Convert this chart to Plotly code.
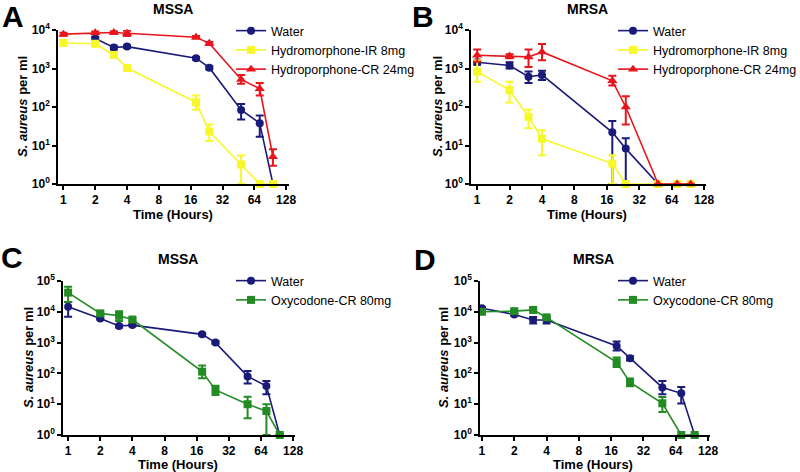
import numpy as np
import plotly.graph_objects as go

# ---------------- data ----------------
hours = [1, 2, 3, 4, 18, 24, 48, 72, 96]
hours_A_water = [2, 3, 4, 18, 24, 48, 72, 96]

# Panel A (MSSA, hydromorphone)
A_water = [6000, 3500, 3700, 1850, 1050, 84, 38, 1]
A_water_hi = [6600, 3900, 4000, 2000, 1150, 120, 60, 1]
A_water_lo = [5400, 3100, 3400, 1700, 950, 47, 17, 1]
A_ir = [4600, 4400, 2250, 1030, 133, 23, 3.2, 1, 1]
A_ir_hi = [5300, 5000, 2600, 1200, 200, 35, 5.5, 1, 1]
A_ir_lo = [4000, 3800, 1950, 880, 85, 13, 1, 1, 1]
A_cr = [7800, 8500, 8600, 8200, 6500, 4500, 520, 300, 5.1]
A_cr_hi = [8500, 9200, 9300, 9500, 7000, 4900, 680, 420, 8]
A_cr_lo = [7100, 7800, 7900, 7000, 6000, 4100, 400, 200, 3]

# Panel B (MRSA, hydromorphone)
B_water = [1450, 1200, 610, 680, 22, 8.3, 1, 1, 1]
B_water_hi = [1700, 1450, 830, 880, 43, 15.5, 1, 1, 1]
B_water_lo = [1250, 1000, 420, 500, 1, 1, 1, 1, 1]
B_ir = [830, 275, 55, 15, 3.4, 1, 1, 1, 1]
B_ir_hi = [1650, 450, 85, 25, 5.6, 1, 1, 1, 1]
B_ir_lo = [450, 130, 28, 5.6, 1, 1, 1, 1, 1]
B_cr = [2200, 2100, 2000, 2700, 480, 100, 1, 1, 1]
B_cr_hi = [3100, 2350, 3100, 4300, 650, 190, 1, 1, 1]
B_cr_lo = [1500, 1850, 1100, 1650, 360, 35, 1, 1, 1]

# Panel C (MSSA, oxycodone)
C_water = [14500, 6100, 3450, 3700, 1850, 1000, 80, 39, 1]
C_water_hi = [21000, 6700, 3800, 4000, 2000, 1100, 120, 57, 1]
C_water_lo = [6900, 5600, 3100, 3400, 1700, 920, 47, 21, 1]
C_oxy = [42000, 8900, 7400, 5600, 114, 29, 10, 6, 1]
C_oxy_hi = [65000, 10000, 10500, 6200, 180, 40, 17.5, 10, 1]
C_oxy_lo = [21000, 7800, 5000, 5000, 70, 20, 3.5, 1, 1]

# Panel D (MRSA, oxycodone)
D_water = [13000, 8200, 5400, 5400, 780, 310, 35, 22.5, 1]
D_water_hi = [14000, 9000, 6800, 6800, 1080, 360, 57, 36, 1]
D_water_lo = [12000, 7500, 4200, 4200, 550, 260, 21, 10.6, 1]
D_oxy = [10000, 10500, 11500, 6600, 230, 51, 10.7, 1, 1]
D_oxy_hi = [11000, 11500, 12500, 7300, 330, 68, 17, 1, 1]
D_oxy_lo = [9000, 9500, 10500, 5900, 160, 38, 5.6, 1, 1]

x_ticks = [1, 2, 4, 8, 16, 32, 64, 128]
x_ticktext = ["1", "2", "4", "8", "16", "32", "64", "128"]
y_ticks4 = [1, 10, 100, 1000, 10000]
y_ticks5 = [1, 10, 100, 1000, 10000, 100000]

NAVY = "#1a1a7a"
YELLOW = "#f7f72a"
RED = "#e8161c"
GREEN = "#238b23"
FONT = "Liberation Sans"

W, H = 800, 472
def px(x):
    return x / W
def py(y):
    return 1 - y / H

fig = go.Figure()

def add(x, y, hi, lo, name, color, symbol, size, ax, legend):
    up = [h - v for h, v in zip(hi, y)]
    dn = [v - l for v, l in zip(y, lo)]
    fig.add_trace(go.Scatter(
        x=x, y=y, name=name, mode="lines+markers",
        line=dict(color=color, width=1.6),
        marker=dict(color=color, symbol=symbol, size=size),
        error_y=dict(type="data", symmetric=False, array=up, arrayminus=dn,
                     color=color, thickness=2, width=4),
        xaxis="x" + ax, yaxis="y" + ax, legend=legend, cliponaxis=False,
    ))

add(hours_A_water, A_water, A_water_hi, A_water_lo, "Water", NAVY, "circle", 8, "", "legend")
add(hours, A_ir, A_ir_hi, A_ir_lo, "Hydromorphone-IR 8mg", YELLOW, "square", 8, "", "legend")
add(hours, A_cr, A_cr_hi, A_cr_lo, "Hydroporphone-CR 24mg", RED, "triangle-up", 9, "", "legend")

add(hours, B_water, B_water_hi, B_water_lo, "Water", NAVY, "circle", 8, "2", "legend2")
add(hours, B_ir, B_ir_hi, B_ir_lo, "Hydromorphone-IR 8mg", YELLOW, "square", 8, "2", "legend2")
add(hours, B_cr, B_cr_hi, B_cr_lo, "Hydroporphone-CR 24mg", RED, "triangle-up", 9, "2", "legend2")

add(hours, C_water, C_water_hi, C_water_lo, "Water", NAVY, "circle", 8, "3", "legend3")
add(hours, C_oxy, C_oxy_hi, C_oxy_lo, "Oxycodone-CR 80mg", GREEN, "square", 8, "3", "legend3")

add(hours, D_water, D_water_hi, D_water_lo, "Water", NAVY, "circle", 8, "4", "legend4")
add(hours, D_oxy, D_oxy_hi, D_oxy_lo, "Oxycodone-CR 80mg", GREEN, "square", 8, "4", "legend4")

L2 = np.log10(2)
panels = {
    # key: (x0, x1, y_top, y_bot, range_lo_doublings, range_hi_doublings, ymax_exp)
    "": (58, 289, 30, 184, -0.17, 7.09, 4),
    "2": (471, 706, 30, 184, -0.19, 7.06, 4),
    "3": (63, 295, 281, 435, -0.16, 7.06, 5),
    "4": (480, 710, 281, 435, -0.06, 7.06, 5),
}

tickfont = dict(family=FONT, size=12, color="black", weight="bold")
for key, (x0, x1, yt, yb, lo, hi, ymax) in panels.items():
    yticks = y_ticks4 if ymax == 4 else y_ticks5
    fig.update_layout(**{
        "xaxis" + key: dict(
            domain=[px(x0), px(x1)], type="log", range=[lo * L2, hi * L2],
            anchor="y" + key, tickvals=x_ticks, ticktext=x_ticktext,
            showline=True, linecolor="black", linewidth=1.6, automargin=False,
            ticks="outside", ticklen=4, tickwidth=1.6, tickcolor="black",
            showgrid=False, zeroline=False, tickfont=tickfont,
        ),
        "yaxis" + key: dict(
            domain=[py(yb), py(yt)], type="log", range=[0, ymax],
            anchor="x" + key, tickvals=yticks, automargin=False,
            ticktext=["10<sup>%d</sup>" % i for i in range(len(yticks))],
            showline=True, linecolor="black", linewidth=1.6,
            ticks="outside", ticklen=4, tickwidth=1.6, tickcolor="black",
            showgrid=False, zeroline=False, tickfont=tickfont,
        ),
    })

legfont = dict(family=FONT, size=12.5, color="black")
def leg(x, ytop):
    return dict(x=px(x), y=py(ytop), xanchor="left", yanchor="top",
                font=legfont, bgcolor="rgba(0,0,0,0)", tracegroupgap=0,
                itemwidth=30)

fig.update_layout(
    width=W, height=H, margin=dict(l=0, r=0, t=0, b=0, autoexpand=False),
    paper_bgcolor="white", plot_bgcolor="white",
    legend=leg(231, 16), legend2=leg(613, 16),
    legend3=leg(231, 266), legend4=leg(613, 266),
)

ann = []
def text(x, y, s, size, bold=True, angle=0):
    ann.append(dict(x=px(x), y=py(y), xref="paper", yref="paper", text=s,
                    showarrow=False, textangle=angle, xanchor="center", yanchor="middle",
                    font=dict(family=FONT, size=size, color="black",
                              weight="bold" if bold else "normal")))

# panel letters
text(13, 16, "A", 30); text(423, 16, "B", 30)
text(12, 257, "C", 30); text(425, 259, "D", 30)
# panel titles
text(173, 9, "MSSA", 14); text(587, 9, "MRSA", 14)
text(178, 259, "MSSA", 14); text(593, 259, "MRSA", 14)
# x titles
text(173, 214, "Time (Hours)", 13); text(587, 214, "Time (Hours)", 13)
text(178, 464, "Time (Hours)", 13); text(593, 464, "Time (Hours)", 13)
# y titles
ytitle = "<i>S. aureus</i> per ml"
text(23, 107, ytitle, 13, angle=-90); text(438, 107, ytitle, 13, angle=-90)
text(28, 358, ytitle, 13, angle=-90); text(443, 358, ytitle, 13, angle=-90)

fig.update_layout(annotations=ann)
fig.write_html("out.html", config={"displayModeBar": False},
               post_script="document.body.style.margin='0';document.body.style.overflow='hidden';")
